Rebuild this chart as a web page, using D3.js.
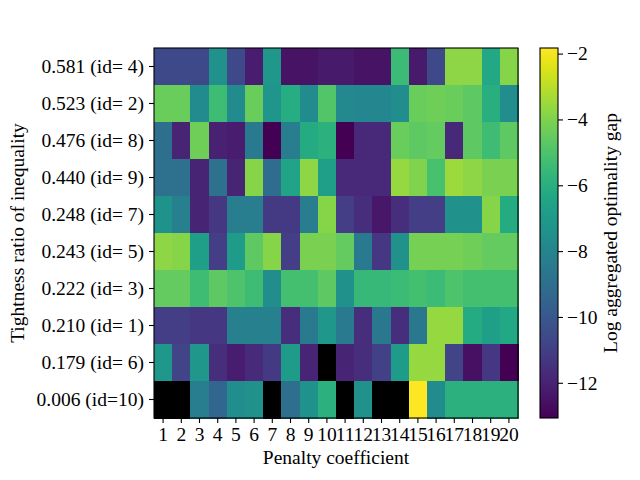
<!DOCTYPE html>
<html>
<head>
<meta charset="utf-8">
<script src="https://cdn.jsdelivr.net/npm/d3@7"></script>
<style>
  body { margin: 0; background: #fff; }
  text { font-family: "Liberation Serif", "DejaVu Serif", serif; }
</style>
</head>
<body>
<script>
// rows top to bottom
var rowLabels = ['0.581 (id= 4)', '0.523 (id= 2)', '0.476 (id= 8)', '0.440 (id= 9)', '0.248 (id= 7)',
                 '0.243 (id= 5)', '0.222 (id= 3)', '0.210 (id= 1)', '0.179 (id= 6)', '0.006 (id=10)'];
var colLabels = d3.range(1, 21);
var cbTicks = [-2, -4, -6, -8, -10, -12];

// log aggregated optimality gap, null = no value (drawn black)
var gap = [
  [-10.6, -10.6, -10.6, -7.45, -10.6, -12.17, -7.11, -12.51, -12.51, -12.28, -12.28, -12.51, -12.51, -5.43, -12.28, -10.6, -3.74, -3.74, -6.33, -3.85],
  [-4.42, -4.42, -7.68, -5.31, -7.68, -4.42, -7.23, -6.10, -7.68, -4.86, -7.79, -7.90, -7.90, -7.56, -4.42, -4.30, -4.42, -4.64, -5.99, -7.56],
  [-9.02, -11.95, -4.30, -12.06, -12.17, -8.46, -13.07, -8.35, -6.21, -5.88, -13.07, -11.83, -11.83, -4.42, -4.64, -4.53, -11.83, -4.64, -5.31, -4.64],
  [-8.91, -8.91, -11.95, -8.91, -11.95, -3.85, -9.14, -6.55, -3.74, -6.78, -11.83, -11.83, -11.83, -3.63, -3.97, -5.09, -3.52, -3.74, -4.08, -4.08],
  [-7.34, -8.24, -11.95, -11.27, -8.35, -8.35, -11.16, -11.16, -8.35, -3.85, -11.05, -11.61, -12.40, -11.61, -11.05, -11.05, -7.45, -7.45, -3.85, -6.21],
  [-3.74, -3.85, -6.78, -11.05, -6.89, -4.64, -3.85, -11.05, -4.08, -4.08, -4.53, -8.46, -11.27, -7.45, -4.19, -4.19, -4.19, -4.30, -4.53, -4.53],
  [-4.53, -4.53, -5.31, -4.64, -4.98, -5.31, -7.56, -5.20, -5.20, -4.64, -7.45, -5.54, -5.54, -5.43, -5.20, -5.43, -4.98, -5.20, -5.20, -5.20],
  [-11.05, -11.05, -11.27, -11.27, -8.24, -8.24, -8.24, -11.61, -8.46, -7.11, -8.46, -11.61, -8.57, -11.61, -8.57, -3.63, -3.63, -6.21, -6.78, -6.33],
  [-7.11, -10.82, -7.11, -11.61, -12.17, -11.72, -11.16, -6.89, -11.95, null, -11.95, -11.61, -10.93, -6.89, -3.63, -3.63, -10.82, -12.62, -11.27, -13.07],
  [null, null, -8.35, -9.36, -7.56, -7.45, null, -9.02, -7.34, -5.88, null, -7.45, null, null, -1.83, -7.68, -5.88, -5.88, -5.88, -5.88]
];
var vmin = -13.07, vmax = -1.83;
var fs = 19.5;

var svg = d3.select('body').append('svg')
  .attr('width', 640)
  .attr('height', 480);

var x = d3.scaleBand().domain(colLabels).range([154, 518]);
var y = d3.scaleBand().domain(rowLabels).range([48, 418]);
var color = d3.scaleSequential(d3.interpolateViridis).domain([vmin, vmax]);

var cells = [];
gap.forEach(function(row, i) {
  row.forEach(function(v, j) {
    cells.push({ r: rowLabels[i], c: colLabels[j], v: v });
  });
});

svg.append('g').selectAll('rect')
  .data(cells)
  .enter().append('rect')
  .attr('x', function(d) { return x(d.c); })
  .attr('y', function(d) { return y(d.r); })
  .attr('width', x.bandwidth() + 0.5)
  .attr('height', y.bandwidth() + 0.5)
  .attr('fill', function(d) { return d.v === null ? '#000' : color(d.v); })
  .attr('shape-rendering', 'crispEdges');

// frame
svg.append('rect')
  .attr('x', 154).attr('y', 48)
  .attr('width', 364).attr('height', 370)
  .attr('fill', 'none').attr('stroke', '#000').attr('stroke-width', 1.1);

var xAxis = svg.append('g')
  .attr('transform', 'translate(0,418)')
  .call(d3.axisBottom(x).tickSize(5).tickPadding(4));
var yAxis = svg.append('g')
  .attr('transform', 'translate(154,0)')
  .call(d3.axisLeft(y).tickSize(5).tickPadding(5));

[xAxis, yAxis].forEach(function(a) {
  a.select('.domain').remove();
  a.selectAll('text').attr('font-size', fs).attr('fill', '#000')
    .style('font-family', '"Liberation Serif", serif');
  a.selectAll('line').attr('stroke-width', 1.1);
});

svg.append('text')
  .attr('x', 336).attr('y', 464)
  .attr('text-anchor', 'middle')
  .attr('font-size', fs)
  .text('Penalty coefficient');

svg.append('text')
  .attr('transform', 'translate(24,233) rotate(-90)')
  .attr('text-anchor', 'middle')
  .attr('font-size', fs)
  .text('Tightness ratio of inequality');

// colorbar
var cbX = 540, cbW = 18;
var cb = d3.scaleLinear().domain([vmin, vmax]).range([418, 48]);

var grad = svg.append('defs').append('linearGradient')
  .attr('id', 'cbgrad')
  .attr('x1', 0).attr('y1', 1).attr('x2', 0).attr('y2', 0);
grad.selectAll('stop')
  .data(d3.range(0, 1.0001, 0.05))
  .enter().append('stop')
  .attr('offset', function(d) { return d; })
  .attr('stop-color', function(d) { return d3.interpolateViridis(d); });

svg.append('rect')
  .attr('x', cbX).attr('y', 48)
  .attr('width', cbW).attr('height', 370)
  .attr('fill', 'url(#cbgrad)')
  .attr('stroke', '#000').attr('stroke-width', 1.1);

var cbAxis = svg.append('g')
  .attr('transform', 'translate(' + (cbX + cbW) + ',0)')
  .call(d3.axisRight(cb).tickValues(cbTicks).tickSize(5).tickPadding(4));
cbAxis.select('.domain').remove();
cbAxis.selectAll('text').attr('font-size', fs).attr('fill', '#000')
  .style('font-family', '"Liberation Serif", serif');
cbAxis.selectAll('line').attr('stroke-width', 1.1);

svg.append('text')
  .attr('transform', 'translate(617,233) rotate(-90)')
  .attr('text-anchor', 'middle')
  .attr('font-size', fs)
  .text('Log aggregated optimality gap');
</script>
</body>
</html>
